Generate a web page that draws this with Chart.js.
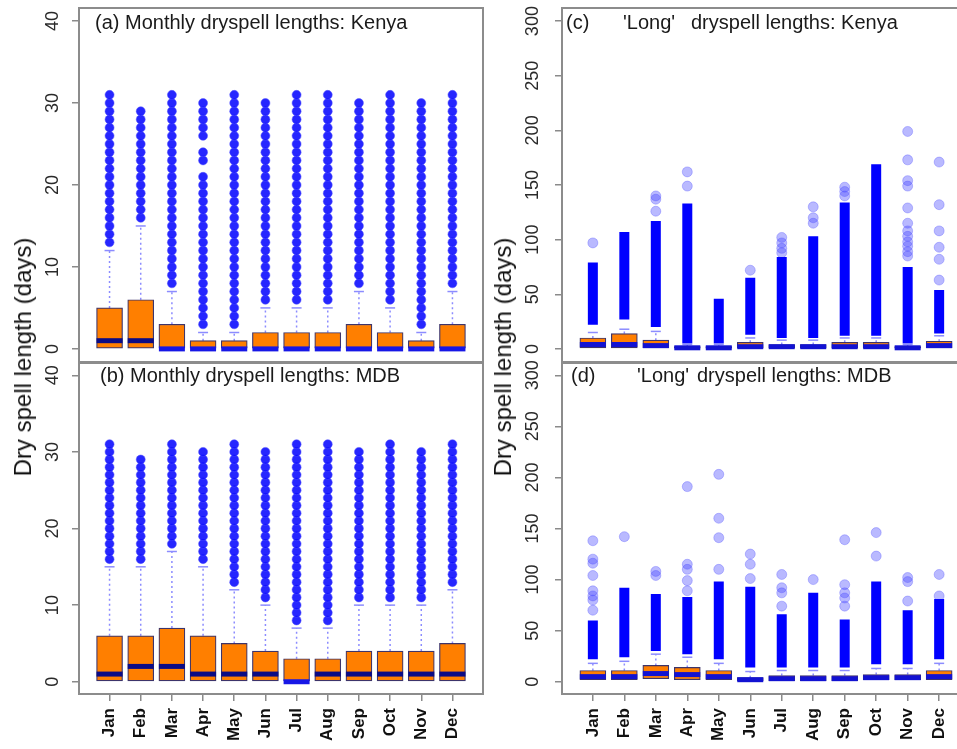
<!DOCTYPE html>
<html><head><meta charset="utf-8">
<script src="https://cdn.jsdelivr.net/npm/chart.js@4.4.1/dist/chart.umd.min.js"></script>
<style>
html,body{margin:0;padding:0;background:#fff;overflow:hidden;width:957px;height:749px;}
body{position:relative;font-family:Arial,"Liberation Sans",sans-serif;}
canvas{position:absolute;display:block;}
.t{position:absolute;font-size:20px;line-height:20px;color:#1a1a1a;white-space:pre;}
.yl{position:absolute;font-size:24px;line-height:24px;color:#111;white-space:nowrap;transform:translate(-50%,-50%) rotate(-90deg);}
</style></head><body>
<canvas id="ca" width="490" height="370" style="left:0;top:0"></canvas>
<canvas id="cb" width="490" height="394" style="left:0;top:355px"></canvas>
<canvas id="cc" width="490" height="370" style="left:490px;top:0"></canvas>
<canvas id="cd" width="490" height="394" style="left:490px;top:355px"></canvas>
<div class="t" style="left:95px;top:12px">(a) Monthly dryspell lengths: Kenya</div>
<div class="t" style="left:100px;top:365px">(b) Monthly dryspell lengths: MDB</div>
<div class="t" style="left:566px;top:12px">(c)</div>
<div class="t" style="left:623px;top:12px">'Long'</div>
<div class="t" style="left:691px;top:12px">dryspell lengths: Kenya</div>
<div class="t" style="left:571px;top:365px">(d)</div>
<div class="t" style="left:637px;top:365px">'Long'</div>
<div class="t" style="left:697px;top:365px">dryspell lengths: MDB</div>
<div class="yl" style="left:23px;top:357px">Dry spell length (days)</div>
<div class="yl" style="left:503px;top:357px">Dry spell length (days)</div>
<script>
const months = ['Jan','Feb','Mar','Apr','May','Jun','Jul','Aug','Sep','Oct','Nov','Dec'];
const monthlyTicks = [0, 10, 20, 30, 40];
const longTicks = [0, 50, 100, 150, 200, 250, 300];

// (a) Monthly dry spell lengths: Kenya
const kenyaQ1 = [0,0,0,0,0,0,0,0,0,0,0,0];
const kenyaMed = [1,1,0,0,0,0,0,0,0,0,0,0];
const kenyaQ3 = [5,6,3,1,1,2,2,2,3,2,1,3];
const kenyaWhisk = [12,15,7,2,2,5,5,5,7,5,2,7];
const kenyaOut = [
  [13,14,15,16,17,18,19,20,21,22,23,24,25,26,27,28,29,30,31],
  [16,17,18,19,20,21,22,23,24,25,26,27,28,29],
  [8,9,10,11,12,13,14,15,16,17,18,19,20,21,22,23,24,25,26,27,28,29,30,31],
  [3,4,5,6,7,8,9,10,11,12,13,14,15,16,17,18,19,20,21,23,24,26,27,28,29,30],
  [3,4,5,6,7,8,9,10,11,12,13,14,15,16,17,18,19,20,21,22,23,24,25,26,27,28,29,30,31],
  [6,7,8,9,10,11,12,13,14,15,16,17,18,19,20,21,22,23,24,25,26,27,28,29,30],
  [6,7,8,9,10,11,12,13,14,15,16,17,18,19,20,21,22,23,24,25,26,27,28,29,30,31],
  [6,7,8,9,10,11,12,13,14,15,16,17,18,19,20,21,22,23,24,25,26,27,28,29,30,31],
  [8,9,10,11,12,13,14,15,16,17,18,19,20,21,22,23,24,25,26,27,28,29,30],
  [6,7,8,9,10,11,12,13,14,15,16,17,18,19,20,21,22,23,24,25,26,27,28,29,30,31],
  [3,4,5,6,7,8,9,10,11,12,13,14,15,16,17,18,19,20,21,22,23,24,25,26,27,28,29,30],
  [8,9,10,11,12,13,14,15,16,17,18,19,20,21,22,23,24,25,26,27,28,29,30,31]
];

// (b) Monthly dry spell lengths: MDB
const mdbQ1 = [0,0,0,0,0,0,0,0,0,0,0,0];
const mdbMed = [1,2,2,1,1,1,0,1,1,1,1,1];
const mdbQ3 = [6,6,7,6,5,4,3,3,4,4,4,5];
const mdbWhisk = [15,15,17,15,12,10,7,7,10,10,10,12];
const mdbOut = [
  [16,17,18,19,20,21,22,23,24,25,26,27,28,29,30,31],
  [16,17,18,19,20,21,22,23,24,25,26,27,28,29],
  [18,19,20,21,22,23,24,25,26,27,28,29,30,31],
  [16,17,18,19,20,21,22,23,24,25,26,27,28,29,30],
  [13,14,15,16,17,18,19,20,21,22,23,24,25,26,27,28,29,30,31],
  [11,12,13,14,15,16,17,18,19,20,21,22,23,24,25,26,27,28,29,30],
  [8,9,10,11,12,13,14,15,16,17,18,19,20,21,22,23,24,25,26,27,28,29,30,31],
  [8,9,10,11,12,13,14,15,16,17,18,19,20,21,22,23,24,25,26,27,28,29,30,31],
  [11,12,13,14,15,16,17,18,19,20,21,22,23,24,25,26,27,28,29,30],
  [11,12,13,14,15,16,17,18,19,20,21,22,23,24,25,26,27,28,29,30,31],
  [11,12,13,14,15,16,17,18,19,20,21,22,23,24,25,26,27,28,29,30],
  [13,14,15,16,17,18,19,20,21,22,23,24,25,26,27,28,29,30,31]
];

// (c) 'Long' dry spell lengths: Kenya
const kenyaLongQ1 = [1,1,1,0,0,1,1,1,1,1,0,1];
const kenyaLongMed = [4,4,3,1,1,2,2,2,2,2,1,3];
const kenyaLongQ3 = [10,14,8,2,2,6,4,4,6,6,2,7];
const kenyaLongWhisk = [15,18,16,4,4,10,8,8,10,10,4,12];
const kenyaLongDenseLo = [22,27,20,5,5,13,10,10,12,12,5,14];
const kenyaLongDenseHi = [79,107,117,133,46,65,84,103,134,169,75,54];
const kenyaLongSparse = [
  [97],[],[126,137,140],[149,162],[],[72],[88,92,97,102],[115,120,130],
  [140,144,148],[],[85,89,94,98,103,108,115,129,149,154,173,199],[63,82,93,108,132,171]
];

// (d) 'Long' dry spell lengths: MDB
const mdbLongQ1 = [2,2,3,2,2,1,1,1,1,2,2,2];
const mdbLongMed = [5,5,8,7,5,2,3,3,3,4,4,5];
const mdbLongQ3 = [11,11,16,14,11,4,6,6,6,7,7,11];
const mdbLongWhisk = [18,20,27,24,18,10,11,11,11,13,13,18];
const mdbLongDenseLo = [22,24,30,27,22,14,14,14,14,17,17,22];
const mdbLongDenseHi = [60,92,86,83,98,93,66,87,61,98,70,81];
const mdbLongSparse = [
  [70,80,84,89,104,116,120,138],[142],[104,108],[89,99,110,115,191],[110,141,160,203],
  [101,115,125],[74,87,92,105],[100],[74,82,87,95,139],[123,146],[79,98,102],[84,105]
];

const FONT = 'Arial, "Liberation Sans", sans-serif';

const framePlugin = {
  id: 'frame',
  afterDatasetsDraw(chart) {
    const {ctx, chartArea: a} = chart;
    ctx.save();
    ctx.strokeStyle = '#8c8c8c';
    ctx.lineWidth = 2;
    ctx.strokeRect(a.left, a.top, a.right - a.left, a.bottom - a.top);
    ctx.restore();
  }
};

function zeroPad(s) {
  s.paddingTop = 0; s.paddingBottom = 0; s.paddingLeft = 0; s.paddingRight = 0;
}

function buildPanel(id, c) {
  const ds = [];
  ds.push({
    type: 'bar', order: 3, grouped: false, barThickness: 26,
    data: c.q1.map((v, i) => ({x: i + 1, y: [v, c.q3[i]]})),
    backgroundColor: '#ff7f00', borderColor: 'rgba(40,30,90,0.9)', borderWidth: 1.2, borderSkipped: false
  });
  ds.push({
    type: 'scatter', order: 1,
    data: c.med.map((v, i) => ({x: i + 1, y: v})),
    pointStyle: 'line', pointRadius: 13, pointHoverRadius: 13, pointBorderWidth: 5,
    pointBorderColor: c.med.map((v, i) => c.long ? '#1212d2' : (v > c.q1[i] ? '#0b0b85' : '#1717e6'))
  });
  const wl = [];
  c.q3.forEach((v, i) => { wl.push({x: i + 1, y: v}, {x: i + 1, y: c.whisk[i]}, {x: i + 1, y: null}); });
  ds.push({
    type: 'scatter', order: 4, showLine: true, spanGaps: false, data: wl,
    borderColor: '#8c8cff', borderWidth: 1.5, borderDash: [2, 3], pointRadius: 0
  });
  ds.push({
    type: 'scatter', order: 4,
    data: c.whisk.map((v, i) => ({x: i + 1, y: v})),
    pointStyle: 'line', pointRadius: 5, pointBorderWidth: 1.5, pointBorderColor: '#8c8cff'
  });
  if (c.out) {
    const pts = [];
    c.out.forEach((arr, i) => arr.forEach(v => pts.push({x: i + 1, y: v})));
    ds.push({
      type: 'scatter', order: 5, data: pts, pointStyle: 'circle', pointRadius: 4.5,
      pointBackgroundColor: 'rgba(8,8,255,0.88)', pointBorderColor: 'rgba(80,80,255,0.5)', pointBorderWidth: 1
    });
  }
  if (c.denseLo) {
    const dl = [];
    c.denseLo.forEach((v, i) => { dl.push({x: i + 1, y: v}, {x: i + 1, y: c.denseHi[i]}, {x: i + 1, y: null}); });
    ds.push({
      type: 'scatter', order: 5, showLine: true, spanGaps: false, data: dl,
      borderColor: '#0000ff', borderWidth: 10, borderCapStyle: 'butt', pointRadius: 0
    });
    const sp = [];
    c.sparse.forEach((arr, i) => arr.forEach(v => sp.push({x: i + 1, y: v})));
    ds.push({
      type: 'scatter', order: 6, data: sp, pointStyle: 'circle', pointRadius: 5,
      pointBackgroundColor: 'rgba(70,70,255,0.38)', pointBorderColor: 'rgba(70,70,255,0.3)', pointBorderWidth: 1
    });
  }
  const xScale = {
    type: 'linear', min: 0.02, max: 12.98, offset: false, display: c.showX,
    afterBuildTicks: s => { s.ticks = months.map((m, i) => ({value: i + 1})); },
    afterFit: s => { s.height = c.showX ? 55 : 0; zeroPad(s); },
    grid: {display: true, drawOnChartArea: false, tickLength: 7, color: '#8a8a8a', lineWidth: 1.5, offset: false},
    border: {display: false},
    ticks: {
      autoSkip: false, minRotation: 90, maxRotation: 90, padding: 7, color: '#111',
      font: {family: FONT, size: 17, weight: 'bold'},
      callback: v => months[Math.round(v) - 1]
    }
  };
  const yScale = {
    type: 'linear', min: c.yMin, max: c.yMax,
    afterBuildTicks: s => { s.ticks = c.yTicks.map(v => ({value: v})); },
    afterFit: s => { s.width = c.yWidth; zeroPad(s); },
    grid: {display: true, drawOnChartArea: false, tickLength: 7, color: '#8a8a8a', lineWidth: 1.5},
    border: {display: false},
    ticks: {
      autoSkip: false, minRotation: 90, maxRotation: 90, crossAlign: 'center', padding: c.labelPad,
      color: '#2a2a2a', font: {family: FONT, size: 18},
      callback: v => String(v)
    }
  };
  return new Chart(document.getElementById(id), {
    type: 'bar',
    data: {datasets: ds},
    options: {
      responsive: false, animation: false, events: [],
      layout: {padding: c.padding, autoPadding: false},
      plugins: {legend: {display: false}, tooltip: {enabled: false}, title: {display: false}},
      scales: {x: xScale, y: yScale}
    },
    plugins: [framePlugin]
  });
}

buildPanel('ca', {q1: kenyaQ1, med: kenyaMed, q3: kenyaQ3, whisk: kenyaWhisk, out: kenyaOut,
  yMin: -1.6, yMax: 41.6, yTicks: monthlyTicks, yWidth: 79, labelPad: 9, showX: false,
  padding: {left: 0, right: 7, top: 8, bottom: 8}});
buildPanel('cb', {q1: mdbQ1, med: mdbMed, q3: mdbQ3, whisk: mdbWhisk, out: mdbOut,
  yMin: -1.6, yMax: 41.6, yTicks: monthlyTicks, yWidth: 79, labelPad: 9, showX: true,
  padding: {left: 0, right: 7, top: 8, bottom: 0}});
buildPanel('cc', {q1: kenyaLongQ1, med: kenyaLongMed, q3: kenyaLongQ3, whisk: kenyaLongWhisk, long: true,
  denseLo: kenyaLongDenseLo, denseHi: kenyaLongDenseHi, sparse: kenyaLongSparse,
  yMin: -12, yMax: 312, yTicks: longTicks, yWidth: 72, labelPad: 7, showX: false,
  padding: {left: 0, right: 10, top: 8, bottom: 8}});
buildPanel('cd', {q1: mdbLongQ1, med: mdbLongMed, q3: mdbLongQ3, whisk: mdbLongWhisk, long: true,
  denseLo: mdbLongDenseLo, denseHi: mdbLongDenseHi, sparse: mdbLongSparse,
  yMin: -12, yMax: 312, yTicks: longTicks, yWidth: 72, labelPad: 7, showX: true,
  padding: {left: 0, right: 10, top: 8, bottom: 0}});
</script>
</body></html>
